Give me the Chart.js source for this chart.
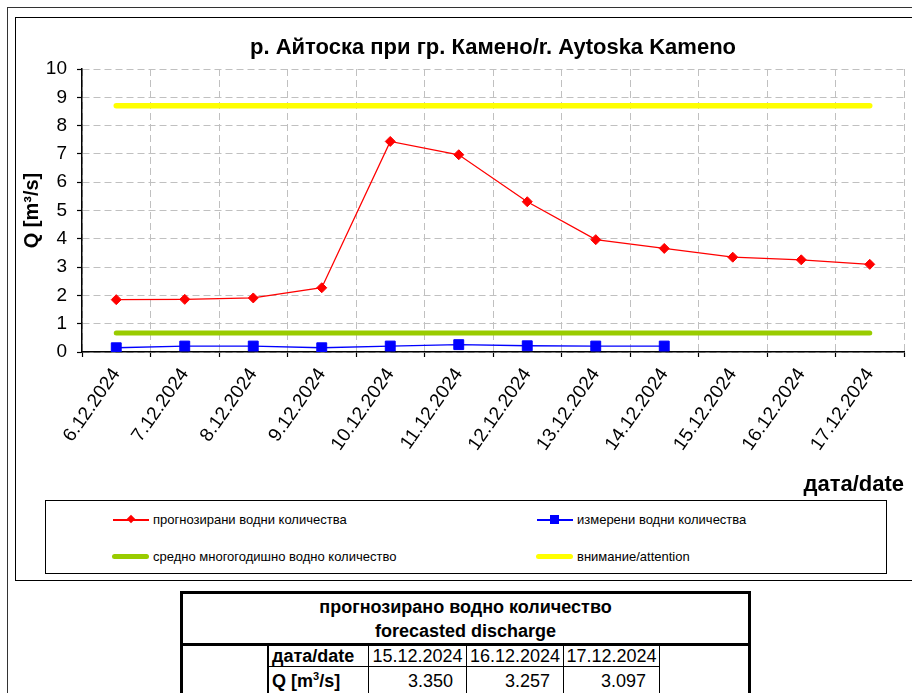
<!DOCTYPE html>
<html lang="bg">
<head>
<meta charset="UTF-8">
<title>р. Айтоска при гр. Камено</title>
<script src="https://cdn.jsdelivr.net/npm/chart.js"></script>
<style>
  body { margin: 0; width: 912px; height: 693px; overflow: hidden; background: #fff; position: relative;
         font-family: Arial, "Liberation Sans", sans-serif; color: #000; }
  #outerBox { position: absolute; left: 7px; top: 7px; width: 1000px; height: 800px; border: 1px solid #333; }
  #chartBox { position: absolute; left: 15px; top: 17px; width: 1000px; height: 562px; border: 1.5px solid #000; }
  #chartWrap { position: absolute; left: 15px; top: 17px; width: 897px; height: 483px; }
  #legend { position: absolute; left: 45px; top: 500px; width: 840px; height: 72px; border: 1px solid #000;
            font-family: "Liberation Sans Narrow", "Arial Narrow", Arial, sans-serif; font-size: 13px; }
  .lg { position: absolute; height: 14px; line-height: 14px; white-space: nowrap; }
  .sw { position: absolute; }
  #fcTable { position: absolute; left: 180px; top: 591px; width: 571px; border: 3px solid #000; border-spacing: 0;
             table-layout: fixed; font-size: 18px; }
  #fcTable td { padding: 0; box-sizing: border-box; white-space: nowrap; }
  #fcTable .head { height: 52px; text-align: center; font-weight: bold; line-height: 24px; border-bottom: 3px solid #000; }
  #fcTable .side { border-right: 2px solid #000; }
  #fcTable .lbl { padding-left: 3px; font-weight: bold; border-right: 1px solid #000; }
  #fcTable .d { text-align: center; border-right: 1px solid #000; }
  #fcTable .v { text-align: right; padding-right: 13px; border-right: 1px solid #000; }
  #fcTable tr.r1 td.lbl, #fcTable tr.r1 td.d { border-bottom: 1px solid #000; height: 21px; line-height: 20px; }
  #fcTable tr.r2 td { height: 27px; line-height: 28px; }
  #fcTable sup { font-size: 11px; vertical-align: 7px; line-height: 0; }
</style>
</head>
<body>

<div id="outerBox"></div>
<div id="chartBox"></div>
<div id="chartWrap"><canvas id="qChart"></canvas></div>

<div id="legend">
  <div class="sw" style="left:67px; top:18px; width:36px; height:1.5px; background:#f00;"></div>
  <div class="sw" style="left:82px; top:15px; width:6px; height:6px; background:#f00; transform:rotate(45deg);"></div>
  <div class="lg" style="left:107px; top:12px;">прогнозирани  водни количества</div>

  <div class="sw" style="left:491px; top:18px; width:36px; height:1.5px; background:#00f;"></div>
  <div class="sw" style="left:504px; top:14px; width:9px; height:9px; background:#00f;"></div>
  <div class="lg" style="left:531px; top:12px;">измерени  водни количества</div>

  <div class="sw" style="left:66px; top:53px; width:37px; height:5px; border-radius:3px; background:#99cc00;"></div>
  <div class="lg" style="left:107px; top:49px;">средно  многогодишно   водно количество</div>

  <div class="sw" style="left:490px; top:53px; width:37px; height:5px; border-radius:3px; background:#ffff00;"></div>
  <div class="lg" style="left:531px; top:49px;">внимание/attention</div>
</div>

<table id="fcTable">
  <colgroup>
    <col style="width:86px"><col style="width:100px"><col style="width:98px">
    <col style="width:97px"><col style="width:96px"><col style="width:88px">
  </colgroup>
  <tr><td colspan="6" class="head">прогнозирано водно количество<br>forecasted discharge</td></tr>
  <tr class="r1" id="dateRow"><td rowspan="2" class="side"></td><td class="lbl">дата/date</td></tr>
  <tr class="r2" id="qRow"><td class="lbl">Q [m<sup>3</sup>/s]</td></tr>
</table>

<script>
const chartTitle = "р. Айтоска при гр. Камено/r. Aytoska Kameno";

const dates = ["6.12.2024", "7.12.2024", "8.12.2024", "9.12.2024", "10.12.2024", "11.12.2024",
               "12.12.2024", "13.12.2024", "14.12.2024", "15.12.2024", "16.12.2024", "17.12.2024"];

// прогнозирани / измерени водни количества
const forecast = [1.85, 1.86, 1.91, 2.27, 7.44, 6.97, 5.31, 3.97, 3.66, 3.350, 3.257, 3.097];
const measured = [0.15, 0.21, 0.21, 0.15, 0.21, 0.26, 0.22, 0.21, 0.21, null, null, null];
const meanQ = [0.67, 0.67, 0.67, 0.67, 0.67, 0.67, 0.67, 0.67, 0.67, 0.67, 0.67, 0.67];
const attention = [8.7, 8.7, 8.7, 8.7, 8.7, 8.7, 8.7, 8.7, 8.7, 8.7, 8.7, 8.7];

const yTicks = [0, 1, 2, 3, 4, 5, 6, 7, 8, 9, 10];

// таблица
const tableDates = ["15.12.2024", "16.12.2024", "17.12.2024"];
const tableQ = ["3.350", "3.257", "3.097"];

function buildTable() {
  const dateRow = document.getElementById("dateRow");
  const qRow = document.getElementById("qRow");
  tableDates.forEach(d => {
    const td = document.createElement("td");
    td.className = "d";
    td.textContent = d;
    dateRow.appendChild(td);
  });
  const endCell = document.createElement("td");
  endCell.rowSpan = 2;
  dateRow.appendChild(endCell);
  tableQ.forEach(q => {
    const td = document.createElement("td");
    td.className = "v";
    td.textContent = q;
    qRow.appendChild(td);
  });
}

const titlePlugin = {
  id: "centerTitle",
  afterDraw(chart) {
    const { ctx, chartArea } = chart;
    ctx.save();
    ctx.font = "bold 22px Arial, 'Liberation Sans'";
    ctx.fillStyle = "#000";
    ctx.textAlign = "center";
    ctx.textBaseline = "middle";
    ctx.fillText(chartTitle, (chartArea.left + chartArea.right) / 2, 31);
    ctx.restore();
  }
};

const gridStyle = {
  color: "#c0c0c0",
  lineWidth: 1,
  tickColor: "#000",
  tickLength: 5,
  tickWidth: 1.2,
  tickBorderDash: []
};

window.onload = () => {
  buildTable();
  const ctx = document.getElementById("qChart").getContext("2d");
  new Chart(ctx, {
    type: "line",
    data: {
      labels: dates,
      datasets: [
        { label: "прогнозирани водни количества", data: forecast, borderColor: "#ff0000", backgroundColor: "#ff0000",
          borderWidth: 1.3, pointStyle: "rectRot", pointRadius: 5, pointBorderWidth: 1, tension: 0 },
        { label: "измерени водни количества", data: measured, borderColor: "#0000ff", backgroundColor: "#0000ff",
          borderWidth: 1.3, pointStyle: "rect", pointRadius: 7, pointBorderWidth: 1, tension: 0 },
        { label: "средно многогодишно водно количество", data: meanQ, borderColor: "#99cc00",
          borderWidth: 5, pointRadius: 0, borderCapStyle: "round" },
        { label: "внимание/attention", data: attention, borderColor: "#ffff00",
          borderWidth: 5.5, pointRadius: 0, borderCapStyle: "round" }
      ]
    },
    options: {
      responsive: true,
      maintainAspectRatio: false,
      animation: false,
      layout: { padding: { left: 2, right: 4, top: 52, bottom: 0 } },
      plugins: {
        legend: { display: false },
        tooltip: { enabled: false },
        title: { display: false }
      },
      scales: {
        x: {
          type: "category",
          offset: true,
          grid: Object.assign({ offset: true }, gridStyle),
          border: { color: "#000", width: 1.5, dash: [7, 4] },
          ticks: {
            autoSkip: false, minRotation: 55, maxRotation: 55, padding: 7,
            color: "#000", font: { family: "Arial, 'Liberation Sans'", size: 19 }
          },
          title: {
            display: true, text: "дата/date", align: "end", color: "#000",
            padding: { top: 0, bottom: 2 },
            font: { family: "Arial, 'Liberation Sans'", size: 22, weight: "bold" }
          },
          afterFit(scale) { scale.height = 148; }
        },
        y: {
          min: 0, max: 10,
          grid: gridStyle,
          border: { color: "#000", width: 1.5, dash: [7, 4] },
          afterBuildTicks(scale) { scale.ticks = yTicks.map(v => ({ value: v })); },
          ticks: {
            padding: 10, color: "#000",
            font: { family: "Arial, 'Liberation Sans'", size: 19 }
          },
          title: {
            display: true, text: "Q [m³/s]", color: "#000",
            padding: { top: 3, bottom: 3 },
            font: { family: "Arial, 'Liberation Sans'", size: 20, weight: "bold" }
          },
          afterFit(scale) { scale.width = 65; }
        }
      }
    },
    plugins: [titlePlugin]
  });
};
</script>

</body>
</html>
